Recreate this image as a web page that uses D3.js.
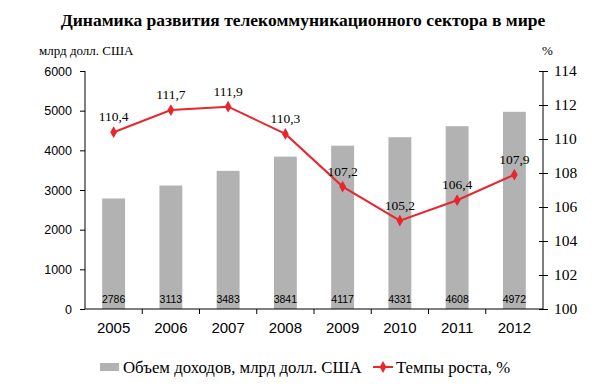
<!DOCTYPE html>
<html>
<head>
<meta charset="utf-8">
<script src="https://cdn.jsdelivr.net/npm/d3@7"></script>
<style>
  body { margin: 0; background: #fff; }
  svg text { font-family: "Liberation Serif", "Times New Roman", serif; fill: #000; }
</style>
</head>
<body>
<svg id="chart" width="607" height="389"></svg>
<script>
// данные
var years = ["2005", "2006", "2007", "2008", "2009", "2010", "2011", "2012"];
var revenue = [2786, 3113, 3483, 3841, 4117, 4331, 4608, 4972];
var growth = [110.4, 111.7, 111.9, 110.3, 107.2, 105.2, 106.4, 107.9];
var leftTicks = [0, 1000, 2000, 3000, 4000, 5000, 6000];
var rightTicks = [100, 102, 104, 106, 108, 110, 112, 114];

var SERIF = "'Liberation Serif', serif";
var SANS = "'Liberation Sans', sans-serif";

var svg = d3.select("#chart");
var plot = {left: 85, right: 543, top: 71, bottom: 309};

var x = d3.scaleBand().domain(years).range([plot.left, plot.right]).paddingInner(0.6).paddingOuter(0.3);
var xc = d3.scaleBand().domain(years).range([plot.left, plot.right]);
var yL = d3.scaleLinear().domain([0, 6000]).range([plot.bottom, plot.top]);
var yR = d3.scaleLinear().domain([100, 114]).range([plot.bottom, plot.top]);

var fmt = function(v){ return String(v).replace(".", ","); };
var cx = function(i){ return xc(years[i]) + xc.bandwidth() / 2; };

// заголовок
svg.append("text")
  .attr("x", 303).attr("y", 26)
  .attr("text-anchor", "middle")
  .style("font-size", "17.5px").style("font-weight", "bold")
  .text("Динамика развития телекоммуникационного сектора в мире");

svg.append("text").attr("x", 39).attr("y", 55)
  .style("font-size", "13px").text("млрд долл. США");
svg.append("text").attr("x", 542).attr("y", 55)
  .style("font-size", "13px").text("%");

// столбцы
svg.selectAll(".bar").data(revenue).enter().append("rect")
  .attr("class", "bar")
  .attr("x", function(d, i){ return x(years[i]); })
  .attr("width", x.bandwidth())
  .attr("y", function(d){ return yL(d); })
  .attr("height", function(d){ return plot.bottom - yL(d); })
  .attr("fill", "#b2b2b2");

svg.selectAll(".barLabel").data(revenue).enter().append("text")
  .attr("x", function(d, i){ return x(years[i]) + x.bandwidth() / 2; })
  .attr("y", plot.bottom - 6)
  .attr("text-anchor", "middle")
  .style("font-family", SANS)
  .style("font-size", "10.5px")
  .text(function(d){ return d; });

// оси
var axL = d3.axisLeft(yL).tickValues(leftTicks).tickFormat(d3.format("d")).tickSize(5).tickPadding(8);
var gL = svg.append("g").attr("transform", "translate(" + plot.left + ",0)").call(axL);

var axR = d3.axisRight(yR).tickValues(rightTicks).tickSize(5).tickPadding(6);
var gR = svg.append("g").attr("transform", "translate(" + plot.right + ",0)").call(axR);
gR.selectAll(".tick line").attr("x1", -4);

var axX = d3.axisBottom(xc).tickSize(0).tickPadding(13);
var gX = svg.append("g").attr("transform", "translate(0," + plot.bottom + ")").call(axX);
gX.selectAll(".boundary").data(years.slice(1)).enter().append("line")
  .attr("x1", function(d){ return xc(d); }).attr("x2", function(d){ return xc(d); })
  .attr("y1", 0).attr("y2", 5).attr("stroke", "#000");

[gL, gR, gX].forEach(function(g){
  g.select(".domain").attr("stroke", "#000");
  g.selectAll("text").attr("fill", "#000");
  g.selectAll(".tick line").attr("stroke", "#000");
});
gL.select(".domain").attr("d", "M0," + plot.top + "V" + plot.bottom);
gR.select(".domain").attr("d", "M0," + plot.top + "V" + plot.bottom);
gX.select(".domain").attr("d", "M" + plot.left + ",0H" + plot.right);
gL.selectAll("text").style("font-family", SANS).style("font-size", "12.5px");
gR.selectAll("text").style("font-family", SERIF).style("font-size", "15.5px");
gX.selectAll("text").style("font-family", SANS).style("font-size", "15px");

// линия темпов роста
var line = d3.line()
  .x(function(d, i){ return cx(i); })
  .y(function(d){ return yR(d); });

svg.append("path").datum(growth)
  .attr("d", line).attr("fill", "none")
  .attr("stroke", "#e8262d").attr("stroke-width", 2);

var diamond = d3.symbol().type(d3.symbolDiamond).size(40);
svg.selectAll(".pt").data(growth).enter().append("path")
  .attr("d", diamond)
  .attr("transform", function(d, i){ return "translate(" + cx(i) + "," + yR(d) + ")"; })
  .attr("fill", "#e8262d");

svg.selectAll(".ptLabel").data(growth).enter().append("text")
  .attr("x", function(d, i){ return cx(i); })
  .attr("y", function(d){ return yR(d) - 11; })
  .attr("text-anchor", "middle")
  .style("font-size", "13.5px")
  .text(fmt);

// легенда
var lg = svg.append("g");
lg.append("rect").attr("x", 100).attr("y", 363).attr("width", 19).attr("height", 8).attr("fill", "#b2b2b2");
lg.append("text").attr("x", 123).attr("y", 373).style("font-size", "16.8px").text("Объем доходов, млрд долл. США");
lg.append("line").attr("x1", 373).attr("x2", 393).attr("y1", 367).attr("y2", 367)
  .attr("stroke", "#e8262d").attr("stroke-width", 2);
lg.append("path").attr("d", diamond).attr("transform", "translate(383,367)").attr("fill", "#e8262d");
lg.append("text").attr("x", 396).attr("y", 373).style("font-size", "16.8px").text("Темпы роста, %");
</script>
</body>
</html>
